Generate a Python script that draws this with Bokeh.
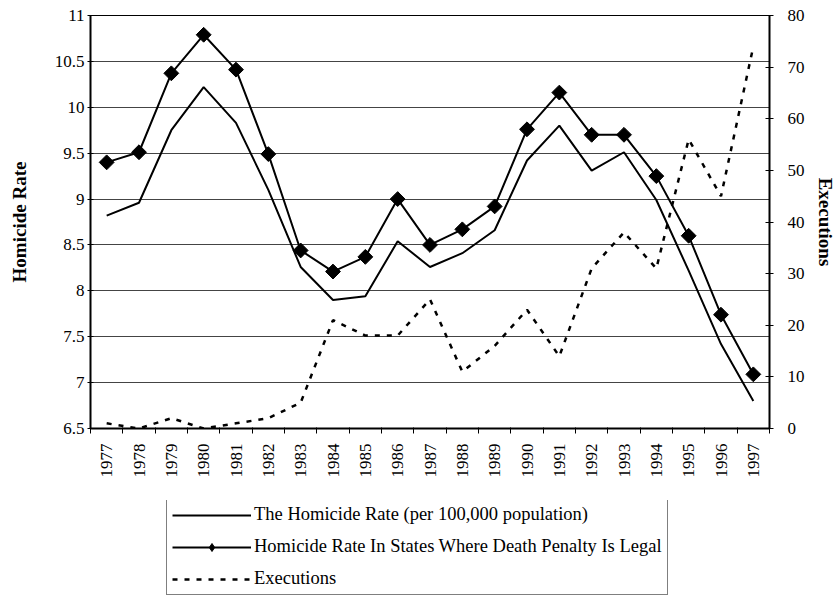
import math
from bokeh.plotting import figure
from bokeh.layouts import column
from bokeh.models import (Range1d, LinearAxis, FixedTicker, CustomJSTickFormatter,
                          Legend, LegendItem)
from bokeh.embed import file_html
from bokeh.resources import INLINE

years = [str(y) for y in range(1977, 1998)]
homicide_rate = [8.82, 8.96, 9.75, 10.22, 9.83, 9.10, 8.26, 7.90, 7.94, 8.54, 8.26,
                 8.41, 8.66, 9.42, 9.80, 9.31, 9.51, 8.99, 8.22, 7.42, 6.80]
death_penalty_rate = [9.40, 9.51, 10.37, 10.79, 10.41, 9.49, 8.44, 8.21, 8.37, 9.00, 8.50,
                      8.67, 8.92, 9.76, 10.16, 9.70, 9.70, 9.25, 8.60, 7.74, 7.09]
executions = [1, 0, 2, 0, 1, 2, 5, 21, 18, 18, 25, 11, 16, 23, 14, 31, 38, 31, 56, 45, 74]
left_ticks = [6.5, 7, 7.5, 8, 8.5, 9, 9.5, 10, 10.5, 11]
right_ticks = [0, 10, 20, 30, 40, 50, 60, 70, 80]
series_labels = ["The Homicide Rate (per 100,000 population)",
                 "Homicide Rate In States Where Death Penalty Is Legal",
                 "Executions"]

FONT = "Liberation Serif"
n = len(years)
xs = [i + 0.5 for i in range(n)]

p = figure(width=838, height=500, output_backend="svg", toolbar_location=None,
           x_range=Range1d(0, n), y_range=Range1d(6.5, 11),
           min_border_left=90, min_border_right=62, min_border_top=15,
           min_border_bottom=72)
p.extra_y_ranges = {"exec": Range1d(0, 80)}
p.outline_line_color = "black"
p.outline_line_width = 1
p.background_fill_color = "white"
p.border_fill_color = "white"

p.xgrid.visible = False
p.ygrid.ticker = FixedTicker(ticks=left_ticks)
p.ygrid.grid_line_color = "#444444"
p.ygrid.grid_line_width = 1

line_kw = dict(line_color="black", line_width=2)
marker_kw = dict(marker="square", angle=math.pi / 4, size=10.5,
                 fill_color="black", line_color="black")
legend_marker_kw = dict(marker="diamond", size=13, fill_color="black", line_color="black")
exec_kw = dict(line_color="black", line_width=2.5, line_dash="5 7")

p.line(xs, homicide_rate, **line_kw)
p.line(xs, death_penalty_rate, **line_kw)
p.scatter(xs, death_penalty_rate, **marker_kw)
p.line(xs, executions, y_range_name="exec", **exec_kw)

# x axis
xa = p.xaxis[0]
xa.ticker = FixedTicker(ticks=xs, minor_ticks=list(range(n + 1)))
xa.formatter = CustomJSTickFormatter(args=dict(labels=years),
                                     code="return labels[Math.round(tick - 0.5)];")
xa.major_label_orientation = math.pi / 2
xa.major_tick_out = 5
xa.major_tick_in = 0
xa.minor_tick_out = 5
xa.minor_tick_in = 1
xa.major_label_standoff = 10

# left axis
ya = p.yaxis[0]
ya.ticker = FixedTicker(ticks=left_ticks)
ya.formatter = CustomJSTickFormatter(code="return tick.toString();")
ya.axis_label = "Homicide Rate"
ya.major_tick_in = 3
ya.major_tick_out = 3
ya.major_label_standoff = 3
ya.axis_label_standoff = 22

# right axis
ra = LinearAxis(y_range_name="exec", ticker=FixedTicker(ticks=right_ticks),
                axis_label="Executions")
ra.major_tick_in = 4
ra.major_tick_out = 4
ra.major_label_standoff = 14
ra.axis_label_standoff = 7
p.add_layout(ra, "right")

for ax in [xa, ya, ra]:
    ax.axis_line_color = "black"
    ax.axis_line_width = 2
    ax.major_tick_line_color = "black"
    ax.minor_tick_line_color = None
    ax.major_label_text_font = FONT
    ax.major_label_text_font_size = "17px"
    ax.major_label_text_color = "black"
    ax.axis_label_text_font = FONT
    ax.axis_label_text_font_size = "19px"
    ax.axis_label_text_font_style = "bold"
    ax.axis_label_text_color = "black"
xa.major_tick_line_color = None
xa.minor_tick_line_color = "black"

# legend panel (separate figure below the chart); its renderers use the real
# data but lie outside its (hidden) ranges, so only the legend shows.
lg = figure(width=838, height=96, output_backend="svg", toolbar_location=None,
            x_range=Range1d(-10, -9), y_range=Range1d(-10, -9),
            min_border_left=90, min_border_top=0, min_border_right=62,
            min_border_bottom=0)
lg.axis.visible = False
lg.grid.visible = False
lg.outline_line_color = None
lg.border_fill_color = "white"
lg.background_fill_color = "white"

l1 = lg.line(xs, homicide_rate, **line_kw)
l2 = lg.line(xs, death_penalty_rate, **line_kw)
l2m = lg.scatter(xs, death_penalty_rate, **legend_marker_kw)
l3 = lg.line(xs, executions, **exec_kw)

legend = Legend(items=[
    LegendItem(label=series_labels[0], renderers=[l1]),
    LegendItem(label=series_labels[1], renderers=[l2, l2m]),
    LegendItem(label=series_labels[2], renderers=[l3]),
], location=(76, 1))
legend.label_text_font = FONT
legend.label_text_font_size = "18.5px"
legend.label_text_color = "black"
legend.glyph_width = 79
legend.glyph_height = 20
legend.label_height = 20
legend.spacing = 11
legend.padding = 5
legend.margin = 0
legend.label_standoff = 3
legend.border_line_color = "black"
legend.border_line_width = 1
legend.background_fill_color = "white"
legend.background_fill_alpha = 1
lg.add_layout(legend, "center")

open("out.html", "w").write(file_html(column(p, lg, spacing=0), INLINE))
